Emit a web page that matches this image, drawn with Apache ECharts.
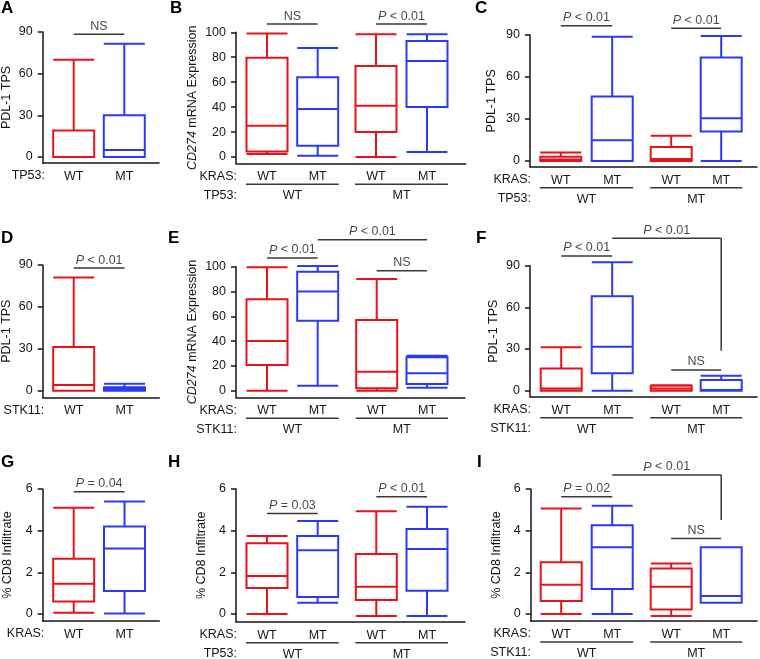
<!DOCTYPE html>
<html><head><meta charset="utf-8">
<script src="https://cdn.jsdelivr.net/npm/echarts@6/dist/echarts.min.js"></script>
<style>html,body{margin:0;padding:0;background:#fff}#c{width:760px;height:659px}</style>
</head><body><div id="c"></div>
<script>
// ---------- DATA : box values are [min, Q1, median, Q3, max] ----------
const PDL1_TICKS = [0, 30, 60, 90];
const CD274_TICKS = [0, 20, 40, 60, 80, 100];
const CD8_TICKS = [0, 2, 4, 6];

// Panel A  (PDL-1 TPS by TP53)
const A_TP53 = ['WT', 'MT'];
const A_PDL1 = [[0, 0, 0, 19, 70], [0, 0, 5, 30, 81.5]];
const A_SIG = [[0, 1, 88.3, 'NS']];

// Panel B  (CD274 by KRAS within TP53)
const B_KRAS = ['WT', 'MT', 'WT', 'MT'];
const B_TP53 = ['WT', 'MT'];
const B_CD274 = [[2.5, 4.5, 25, 79.5, 99], [1, 9, 38.5, 64, 87.5], [0, 20, 41, 73, 98.5], [4, 40, 77, 93, 98.5]];
const B_SIG = [[0, 1, 106.6, 'NS'], [2, 3, 106.6, 'P < 0.01']];

// Panel C  (PDL-1 TPS by KRAS within TP53)
const C_KRAS = ['WT', 'MT', 'WT', 'MT'];
const C_TP53 = ['WT', 'MT'];
const C_PDL1 = [[0, 0, 1, 3, 6], [0, 0, 14.8, 46, 88.8], [0, 0, 1.5, 10, 18], [0, 21, 30.5, 74, 89.3]];
const C_SIG = [[0, 1, 96.6, 'P < 0.01'], [2, 3, 94.8, 'P < 0.01']];

// Panel D  (PDL-1 TPS by STK11)
const D_STK11 = ['WT', 'MT'];
const D_PDL1 = [[0, 0, 4, 31.3, 81], [0, 0, 1, 2.5, 5]];
const D_SIG = [[0, 1, 87.8, 'P < 0.01']];

// Panel E  (CD274 by KRAS within STK11)
const E_KRAS = ['WT', 'MT', 'WT', 'MT'];
const E_STK11 = ['WT', 'MT'];
const E_CD274 = [[0, 20.7, 40, 73.7, 99.5], [4, 56.5, 80, 96, 100.5], [0, 2, 15.3, 57, 90], [2.4, 5.4, 14, 27, 28.2]];
const E_SIG = [[0, 1, 107, 'P < 0.01'], [2, 3, 96.8, 'NS']];
const E_BRACKET = [[1, 3, 121.8, null, 'P < 0.01']];

// Panel F  (PDL-1 TPS by KRAS within STK11)
const F_KRAS = ['WT', 'MT', 'WT', 'MT'];
const F_STK11 = ['WT', 'MT'];
const F_PDL1 = [[0, 0, 1.5, 16, 31.2], [0, 12.5, 31.7, 68, 92.4], [0, 0, 1.5, 3.5, 4], [0, 0, 0.5, 7.7, 10.8]];
const F_SIG = [[0, 1, 97, 'P < 0.01'], [2, 3, 14.9, 'NS']];
const F_BRACKET = [[1, 3, 109.7, 28.8, 'P < 0.01']];

// Panel G  (% CD8 by KRAS)
const G_KRAS = ['WT', 'MT'];
const G_CD8 = [[0.06, 0.6, 1.45, 2.65, 5.1], [0.03, 1.1, 3.15, 4.2, 5.4]];
const G_SIG = [[0, 1, 5.87, 'P = 0.04']];

// Panel H  (% CD8 by KRAS within TP53)
const H_KRAS = ['WT', 'MT', 'WT', 'MT'];
const H_TP53 = ['WT', 'MT'];
const H_CD8 = [[0, 1.25, 1.82, 3.4, 3.74], [0.54, 0.82, 3.06, 3.74, 4.46], [-0.1, 0.67, 1.31, 2.88, 4.93], [-0.1, 1.12, 3.12, 4.08, 5.15]];
const H_SIG = [[0, 1, 4.83, 'P = 0.03'], [2, 3, 5.63, 'P < 0.01']];

// Panel I  (% CD8 by KRAS within STK11)
const I_KRAS = ['WT', 'MT', 'WT', 'MT'];
const I_STK11 = ['WT', 'MT'];
const I_CD8 = [[0, 0.62, 1.41, 2.48, 5.07], [0, 1.2, 3.2, 4.26, 5.2], [-0.1, 0.22, 1.31, 2.18, 2.42], [0.54, 0.54, 0.86, 3.2, 3.2]];
const I_SIG = [[0, 1, 5.63, 'P = 0.02'], [2, 3, 3.63, 'NS']];
const I_BRACKET = [[1, 3, 6.67, 4.51, 'P < 0.01']];

// ---------- LAYOUT / STYLE ----------
const RED = '#e8121b', BLUE = '#2a3bf3', INK = '#161616', BAR = '#383838';
const FONT = '"Liberation Sans", Arial, Helvetica, sans-serif';
const FS = 12.5;
const LAYOUT = {
  A: {axisX: 42.7, yTop: 32, y0: 157, yBot: 163, xEnd: 159, centers: [73.7, 124.3], nameGap: 30, letter: [1, 0], rowX: 45},
  B: {axisX: 236, yTop: 32.3, y0: 157, yBot: 163.3, xEnd: 465.7, centers: [267, 317.7, 376, 427], nameGap: 37, letter: [170, 0], rowX: 237},
  C: {axisX: 530, yTop: 35, y0: 161, yBot: 166.7, xEnd: 757, centers: [560.8, 612.2, 671.2, 721.2], nameGap: 32, letter: [475, 0], rowX: 531},
  D: {axisX: 42.7, yTop: 265, y0: 390.7, yBot: 397.3, xEnd: 159.3, centers: [73.7, 124.5], nameGap: 30, letter: [1, 230], rowX: 44.3},
  E: {axisX: 236, yTop: 266.7, y0: 390.7, yBot: 397.3, xEnd: 465, centers: [267, 317.7, 376.7, 427], nameGap: 37, letter: [168, 230], rowX: 237},
  F: {axisX: 530, yTop: 265.7, y0: 390.7, yBot: 396.7, xEnd: 757, centers: [561.2, 612.2, 671.2, 721.2], nameGap: 30, letter: [476, 230], rowX: 531},
  G: {axisX: 42.7, yTop: 489, y0: 614, yBot: 621, xEnd: 159.3, centers: [73.7, 124.5], nameGap: 29, letter: [1, 454], rowX: 44.3},
  H: {axisX: 236, yTop: 489, y0: 614, yBot: 621.7, xEnd: 465, centers: [267, 317.7, 376.3, 427], nameGap: 28, letter: [168, 454], rowX: 237},
  I: {axisX: 530.7, yTop: 489, y0: 614, yBot: 621, xEnd: 757, centers: [561.2, 612.2, 671.2, 721.2], nameGap: 28, letter: [477, 454], rowX: 531}
};
const BOX_W = 41, HALF_BOX = 21, LABEL_DY = 13, ROW2_DY = 19, UNDERLINE_DY = 21;

const PANELS = [
  {key: 'A', lvl1: A_TP53, lvl2: null, row1: 'TP53:', row2: null, yName: 'PDL-1 TPS', ticks: PDL1_TICKS, boxes: A_PDL1, sig: A_SIG, brackets: []},
  {key: 'B', lvl1: B_KRAS, lvl2: B_TP53, row1: 'KRAS:', row2: 'TP53:', yName: '{i|CD274} mRNA Expression', ticks: CD274_TICKS, boxes: B_CD274, sig: B_SIG, brackets: []},
  {key: 'C', lvl1: C_KRAS, lvl2: C_TP53, row1: 'KRAS:', row2: 'TP53:', yName: 'PDL-1 TPS', ticks: PDL1_TICKS, boxes: C_PDL1, sig: C_SIG, brackets: []},
  {key: 'D', lvl1: D_STK11, lvl2: null, row1: 'STK11:', row2: null, yName: 'PDL-1 TPS', ticks: PDL1_TICKS, boxes: D_PDL1, sig: D_SIG, brackets: []},
  {key: 'E', lvl1: E_KRAS, lvl2: E_STK11, row1: 'KRAS:', row2: 'STK11:', yName: '{i|CD274} mRNA Expression', ticks: CD274_TICKS, boxes: E_CD274, sig: E_SIG, brackets: E_BRACKET},
  {key: 'F', lvl1: F_KRAS, lvl2: F_STK11, row1: 'KRAS:', row2: 'STK11:', yName: 'PDL-1 TPS', ticks: PDL1_TICKS, boxes: F_PDL1, sig: F_SIG, brackets: F_BRACKET},
  {key: 'G', lvl1: G_KRAS, lvl2: null, row1: 'KRAS:', row2: null, yName: '% CD8 Infiltrate', ticks: CD8_TICKS, boxes: G_CD8, sig: G_SIG, brackets: []},
  {key: 'H', lvl1: H_KRAS, lvl2: H_TP53, row1: 'KRAS:', row2: 'TP53:', yName: '% CD8 Infiltrate', ticks: CD8_TICKS, boxes: H_CD8, sig: H_SIG, brackets: []},
  {key: 'I', lvl1: I_KRAS, lvl2: I_STK11, row1: 'KRAS:', row2: 'STK11:', yName: '% CD8 Infiltrate', ticks: CD8_TICKS, boxes: I_CD8, sig: I_SIG, brackets: I_BRACKET}
];

function nearest(arr, v) {
  let b = 0;
  arr.forEach((a, i) => { if (Math.abs(a - v) < Math.abs(arr[b] - v)) b = i; });
  return b;
}
function sigText(t) { return t.charAt(0) === 'P' ? '{i|P}' + t.slice(1) : t; }
const labelFont = {fontFamily: FONT, fontSize: FS, color: INK};
const richItalic = {i: {fontFamily: FONT, fontSize: FS, fontStyle: 'italic', color: INK}};

const grid = [], xAxis = [], yAxis = [], series = [], graphic = [];

PANELS.forEach((p, gi) => {
  const L = LAYOUT[p.key];
  const topV = p.ticks[p.ticks.length - 1];
  const ppu = (L.y0 - L.yTop) / topV;
  const toVal = px => (L.y0 - px) / ppu;
  const yMin = toVal(L.yBot);
  const W = L.xEnd - L.axisX;
  const pos = L.centers.map(c => c - L.axisX);

  grid.push({left: L.axisX, top: L.yTop, width: W, height: L.yBot - L.yTop, containLabel: false, outerBoundsMode: 'none'});

  const xi = xAxis.length;
  xAxis.push({
    gridIndex: gi, type: 'value', min: 0, max: W, position: 'bottom',
    axisLine: {show: true, onZero: false, lineStyle: {color: INK, width: 1.5}},
    axisTick: {show: false}, splitLine: {show: false},
    axisLabel: Object.assign({customValues: pos, margin: 7, formatter: v => p.lvl1[nearest(pos, v)]}, labelFont)
  });
  if (p.lvl2) {
    const gpos = [(pos[0] + pos[1]) / 2, (pos[2] + pos[3]) / 2];
    xAxis.push({
      gridIndex: gi, type: 'value', min: 0, max: W, position: 'bottom', offset: ROW2_DY,
      axisLine: {show: false}, axisTick: {show: false}, splitLine: {show: false},
      axisLabel: Object.assign({customValues: gpos, margin: 7, formatter: v => p.lvl2[nearest(gpos, v)]}, labelFont)
    });
  }
  yAxis.push({
    gridIndex: gi, type: 'value', min: yMin, max: topV,
    axisLine: {show: true, onZero: false, lineStyle: {color: INK, width: 1.5}},
    axisTick: {show: true, customValues: p.ticks, length: 5, lineStyle: {color: INK, width: 1.5}},
    axisLabel: Object.assign({customValues: p.ticks, margin: 10}, labelFont),
    splitLine: {show: false},
    name: p.yName, nameLocation: 'middle', nameGap: L.nameGap, nameMoveOverlap: false,
    nameTextStyle: {fontFamily: FONT, fontSize: FS, color: INK, rich: richItalic}
  });

  // boxes
  series.push({
    type: 'boxplot', xAxisIndex: xi, yAxisIndex: gi, boxWidth: [BOX_W, BOX_W],
    silent: true, emphasis: {disabled: true},
    itemStyle: {color: '#ffffff', borderWidth: 2},
    data: p.boxes.map((b, j) => ({value: [pos[j]].concat(b), itemStyle: {borderColor: p.lvl1[j] === 'WT' ? RED : BLUE, borderWidth: 2}}))
  });

  const lineSeries = (pts) => ({
    type: 'line', xAxisIndex: xi, yAxisIndex: gi, data: pts, symbol: 'none', clip: false, silent: true,
    lineStyle: {color: BAR, width: 1.5}, z: 5, animation: false
  });
  const texts = [];
  p.sig.forEach(s => {
    series.push(lineSeries([[pos[s[0]], s[2]], [pos[s[1]], s[2]]]));
    texts.push({value: [(pos[s[0]] + pos[s[1]]) / 2, s[2]], label: {formatter: sigText(s[3])}});
  });
  p.brackets.forEach(b => {
    const pts = [[pos[b[0]], b[2]], [pos[b[1]], b[2]]];
    if (b[3] !== null) pts.push([pos[b[1]], b[3]]);
    series.push(lineSeries(pts));
    texts.push({value: [(pos[b[0]] + pos[b[1]]) / 2, b[2]], label: {formatter: sigText(b[4])}});
  });
  series.push({
    type: 'scatter', xAxisIndex: xi, yAxisIndex: gi, symbolSize: 1, clip: false, silent: true,
    itemStyle: {color: 'rgba(0,0,0,0)'}, z: 6,
    label: Object.assign({show: true, position: 'top', distance: 1, rich: richItalic}, labelFont),
    data: texts
  });

  // underlines for group rows
  if (p.lvl2) {
    const uy = toVal(L.yBot + UNDERLINE_DY);
    for (let g = 0; g < 2; g++) {
      series.push(lineSeries([[pos[2 * g] - HALF_BOX, uy], [pos[2 * g + 1] + HALF_BOX, uy]]));
    }
  }

  // panel letter
  graphic.push({type: 'text', x: L.letter[0], y: L.letter[1], silent: true,
    style: {text: p.key, font: 'bold 17px ' + FONT, fill: '#000', align: 'left', verticalAlign: 'top', textAlign: 'left', textVerticalAlign: 'top'}});
  // row labels
  const r1y = L.yBot + LABEL_DY;
  graphic.push({type: 'text', x: L.rowX, y: r1y, silent: true,
    style: {text: p.row1, font: FS + 'px ' + FONT, fill: INK, align: 'right', verticalAlign: 'middle', textAlign: 'right', textVerticalAlign: 'middle'}});
  if (p.row2) {
    graphic.push({type: 'text', x: L.rowX, y: r1y + ROW2_DY, silent: true,
      style: {text: p.row2, font: FS + 'px ' + FONT, fill: INK, align: 'right', verticalAlign: 'middle', textAlign: 'right', textVerticalAlign: 'middle'}});
  }
});

const chart = echarts.init(document.getElementById('c'), null, {renderer: 'canvas'});
chart.setOption({
  animation: false,
  backgroundColor: '#ffffff',
  textStyle: {fontFamily: FONT},
  grid, xAxis, yAxis, series, graphic
});
</script>
</body></html>
